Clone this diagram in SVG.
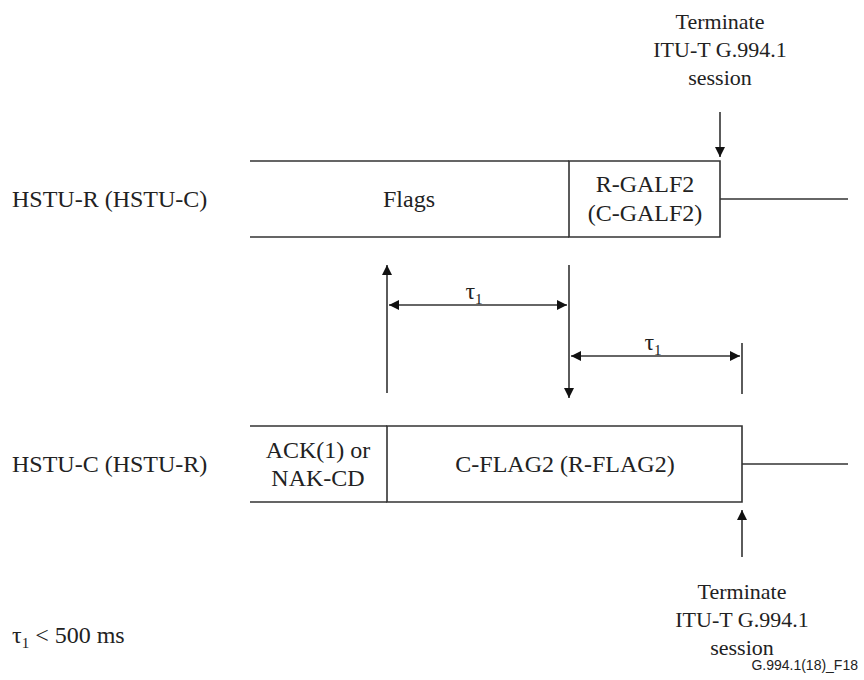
<svg xmlns="http://www.w3.org/2000/svg" width="864" height="680" viewBox="0 0 864 680">
<style>
.t{font-family:"Liberation Serif","Times New Roman",serif;font-size:24px;fill:#222}
.u{font-family:"Liberation Serif","Times New Roman",serif;font-size:22px;fill:#222}
.c{text-anchor:middle}
.s{font-family:"Liberation Sans",Arial,sans-serif;font-size:14px;fill:#222}
.ln{stroke:#333;stroke-width:1.6;fill:none}
</style>
<defs>
<marker id="ah" viewBox="0 0 10 10" refX="10" refY="5" markerWidth="10" markerHeight="10" markerUnits="userSpaceOnUse" orient="auto-start-reverse">
<path d="M0,0 L10,5 L0,10 z" fill="#111"/>
</marker>
</defs>
<rect width="864" height="680" fill="#fff"/>
<g id="label-top"><text class="t" x="12" y="207">HSTU-R (HSTU-C)</text></g>
<g id="label-bottom"><text class="t" x="12" y="472">HSTU-C (HSTU-R)</text></g>
<g id="flags">
<path class="ln" d="M250,161 H569 M250,237 H569"/>
<text class="t c" x="409" y="207">Flags</text>
</g>
<g id="rgalf2">
<path class="ln" d="M569,161 H720 V237 H569 Z"/>
<text class="t c" x="645" y="192">R-GALF2</text>
<text class="t c" x="645" y="221">(C-GALF2)</text>
</g>
<g id="ack">
<path class="ln" d="M250,426 H387 M250,502 H387"/>
<text class="t c" x="318" y="458">ACK(1) or</text>
<text class="t c" x="318" y="486">NAK-CD</text>
</g>
<g id="cflag2">
<path class="ln" d="M387,426 H742 V502 H387 Z"/>
<text class="t c" x="565" y="472">C-FLAG2 (R-FLAG2)</text>
</g>
<g id="term-top">
<text class="u c" x="720" y="29">Terminate</text>
<text class="u c" x="720" y="57">ITU-T G.994.1</text>
<text class="u c" x="720" y="85">session</text>
</g>
<g id="term-bottom">
<text class="u c" x="742" y="599">Terminate</text>
<text class="u c" x="742" y="627">ITU-T G.994.1</text>
<text class="u c" x="742" y="655">session</text>
</g>
<g id="legend">
<text class="t" x="12" y="643">τ<tspan font-size="15" dy="5">1</tspan><tspan dy="-5"> &lt; 500 ms</tspan></text>
<text class="s" x="858" y="670" text-anchor="end">G.994.1(18)_F18</text>
</g>
<g id="connectors">
<path class="ln" d="M720,199 H848"/>
<path class="ln" d="M742,464 H848"/>
<path class="ln" d="M720,112 V157" marker-end="url(#ah)"/>
<path class="ln" d="M742,557 V510" marker-end="url(#ah)"/>
<path class="ln" d="M387,393 V265" marker-end="url(#ah)"/>
<path class="ln" d="M569,265 V398" marker-end="url(#ah)"/>
<path class="ln" d="M389,305 H567" marker-start="url(#ah)" marker-end="url(#ah)"/>
<path class="ln" d="M571,356 H740" marker-start="url(#ah)" marker-end="url(#ah)"/>
<path class="ln" d="M742,343 V394"/>
<text class="t c" x="474" y="299">τ<tspan font-size="15" dy="5">1</tspan></text>
<text class="t c" x="653" y="350">τ<tspan font-size="15" dy="5">1</tspan></text>
</g>
</svg>
